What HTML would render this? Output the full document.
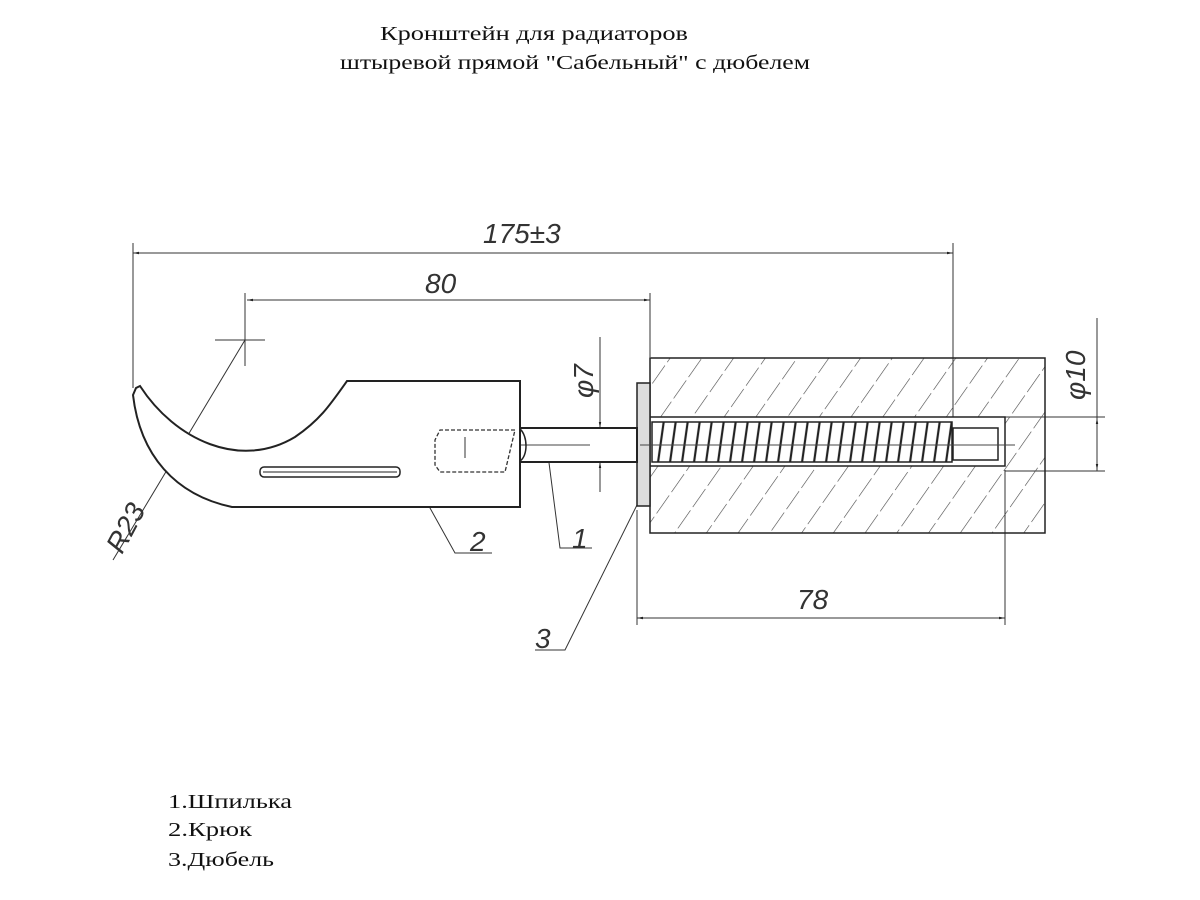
<!DOCTYPE html>
<html><head><meta charset="utf-8"><style>
html,body{margin:0;padding:0;background:#fff;width:1200px;height:900px;overflow:hidden}
svg{display:block}
.t{font-family:"Liberation Serif",serif;font-size:20px;fill:#111}
.d{font-family:"Liberation Sans",sans-serif;font-style:italic;font-size:28px;fill:#333;font-weight:300}
</style></head><body>
<svg width="1200" height="900" viewBox="0 0 1200 900" xmlns="http://www.w3.org/2000/svg">
<defs>
<pattern id="h" patternUnits="userSpaceOnUse" width="26" height="26" patternTransform="rotate(35)">
<line x1="0" y1="0" x2="0" y2="26" stroke="#444" stroke-width="1.2" stroke-dasharray="18 4"/>
</pattern>
<pattern id="th" patternUnits="userSpaceOnUse" width="12" height="50" patternTransform="skewX(-8)">
<line x1="3" y1="0" x2="3" y2="50" stroke="#222" stroke-width="2.2"/>
</pattern>
<marker id="a" viewBox="0 0 10 10" refX="10" refY="5" markerWidth="12" markerHeight="6" orient="auto-start-reverse"><path d="M0,3L10,5L0,7z" fill="#222"/></marker>
</defs>
<text class="t" x="380" y="40" textLength="308" lengthAdjust="spacingAndGlyphs">Кронштейн для радиаторов</text>
<text class="t" x="340" y="69" textLength="470" lengthAdjust="spacingAndGlyphs">штыревой прямой "Сабельный" с дюбелем</text>

<g stroke="#333" stroke-width="1" fill="none">
<line x1="133" y1="243" x2="133" y2="388"/>
<line x1="953" y1="243" x2="953" y2="420"/>
<line x1="133" y1="253" x2="953" y2="253" marker-start="url(#a)" marker-end="url(#a)"/>
<line x1="245" y1="293" x2="245" y2="366"/>
<line x1="650" y1="293" x2="650" y2="357"/>
<line x1="247" y1="300" x2="650" y2="300" marker-start="url(#a)" marker-end="url(#a)"/>
<line x1="215" y1="340" x2="265" y2="340"/>
<line x1="245" y1="340" x2="113" y2="560"/>
<line x1="600" y1="337" x2="600" y2="492"/>
<line x1="600" y1="415" x2="600" y2="428" marker-end="url(#a)"/>
<line x1="600" y1="476" x2="600" y2="462" marker-end="url(#a)"/>
<line x1="1005" y1="417" x2="1105" y2="417"/>
<line x1="1005" y1="471" x2="1105" y2="471"/>
<line x1="1097" y1="318" x2="1097" y2="471"/>
<line x1="1097" y1="432" x2="1097" y2="418" marker-end="url(#a)"/>
<line x1="1097" y1="456" x2="1097" y2="470" marker-end="url(#a)"/>
<line x1="637" y1="510" x2="637" y2="625"/>
<line x1="1005" y1="470" x2="1005" y2="625"/>
<line x1="637" y1="618" x2="1005" y2="618" marker-start="url(#a)" marker-end="url(#a)"/>
<polyline points="420,490 455,553 492,553"/>
<polyline points="548,455 560,548 592,548"/>
<polyline points="637,505 565,650 535,650"/>
</g>

<rect x="650" y="358" width="395" height="175" fill="url(#h)" stroke="#222" stroke-width="1.5"/>
<rect x="650" y="417" width="355" height="49" fill="#fff" stroke="#222" stroke-width="1.5"/>
<rect x="637" y="383" width="13" height="123" fill="#ddd" stroke="#222" stroke-width="1.5"/>
<rect x="652" y="422" width="300" height="40" fill="url(#th)" stroke="#222" stroke-width="1.5"/>
<rect x="953" y="428" width="45" height="32" fill="#fff" stroke="#222" stroke-width="1.5"/>
<line x1="640" y1="445" x2="1015" y2="445" stroke="#444" stroke-width="1"/>
<rect x="520" y="428" width="117" height="34" fill="#fff" stroke="#222" stroke-width="2"/>
<line x1="460" y1="445" x2="590" y2="445" stroke="#444"/>
<path d="M347,381 L520,381 L520,507 L232,507 C175,495 140,455 133,395 L136,388 L140,386 C175,440 240,470 295,437 C320,420 330,405 347,381 Z" fill="#fff" stroke="#222" stroke-width="2"/>
<path d="M520,429 C528,436 528,456 520,461" fill="none" stroke="#222" stroke-width="1.5"/>
<path d="M515,430 L440,430 L435,440 L435,465 L440,472 L505,472 Z" fill="none" stroke="#333" stroke-width="1.3" stroke-dasharray="4 2"/>
<line x1="465" y1="437" x2="465" y2="458" stroke="#333"/>
<rect x="260" y="467" width="140" height="10" rx="4" fill="none" stroke="#222" stroke-width="1.5"/>
<line x1="263" y1="472" x2="397" y2="472" stroke="#222"/>

<text class="d" x="425" y="293">80</text>
<text class="d" x="483" y="243">175±3</text>
<text class="d" x="797" y="609">78</text>
<text class="d" x="470" y="551">2</text>
<text class="d" x="572" y="548">1</text>
<text class="d" x="535" y="648">3</text>
<text class="d" transform="translate(122,555) rotate(-62)">R23</text>
<text class="d" transform="translate(593,398) rotate(-90)">φ7</text>
<text class="d" transform="translate(1085,400) rotate(-90)">φ10</text>

<text class="t" x="168" y="808" textLength="124" lengthAdjust="spacingAndGlyphs">1.Шпилька</text>
<text class="t" x="168" y="836" textLength="84" lengthAdjust="spacingAndGlyphs">2.Крюк</text>
<text class="t" x="168" y="866" textLength="106" lengthAdjust="spacingAndGlyphs">3.Дюбель</text>
</svg>
</body></html>
